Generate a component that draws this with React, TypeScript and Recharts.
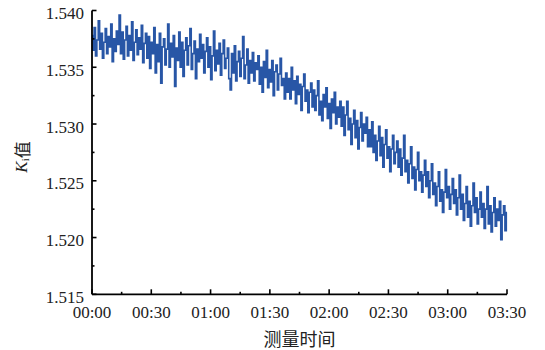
import React from 'react';
import { LineChart, Line, XAxis, YAxis, Label } from 'recharts';

const kValues: number[] = [
  1.5378, 1.5365, 1.5385, 1.5360, 1.5374, 1.5391, 1.5366, 1.5380, 1.5358, 1.5372, 1.5384, 1.5362, 1.5377, 1.5368, 1.5388, 1.5355, 1.5375, 1.5364, 1.5382, 1.5370,
  1.5396, 1.5362, 1.5381, 1.5357, 1.5374, 1.5386, 1.5360, 1.5378, 1.5365, 1.5390, 1.5356, 1.5372, 1.5383, 1.5361, 1.5376, 1.5366, 1.5387, 1.5354, 1.5371, 1.5380,
  1.5358, 1.5377, 1.5349, 1.5372, 1.5362, 1.5385, 1.5345, 1.5370, 1.5355, 1.5380, 1.5336, 1.5368, 1.5375, 1.5352, 1.5366, 1.5388, 1.5350, 1.5371, 1.5359, 1.5378,
  1.5333, 1.5367, 1.5356, 1.5381, 1.5350, 1.5372, 1.5342, 1.5365, 1.5376, 1.5352, 1.5369, 1.5384, 1.5348, 1.5362, 1.5373, 1.5340, 1.5366, 1.5355, 1.5379, 1.5358,
  1.5370, 1.5345, 1.5364, 1.5376, 1.5350, 1.5368, 1.5339, 1.5360, 1.5382, 1.5347, 1.5365, 1.5353, 1.5371, 1.5343, 1.5362, 1.5374, 1.5349, 1.5358, 1.5367, 1.5340,
  1.5330, 1.5362, 1.5345, 1.5369, 1.5338, 1.5355, 1.5364, 1.5342, 1.5358, 1.5377, 1.5340, 1.5352, 1.5366, 1.5336, 1.5356, 1.5345, 1.5363, 1.5338, 1.5354, 1.5348,
  1.5360, 1.5335, 1.5350, 1.5328, 1.5355, 1.5341, 1.5365, 1.5332, 1.5348, 1.5337, 1.5356, 1.5325, 1.5346, 1.5352, 1.5330, 1.5344, 1.5358, 1.5334, 1.5340, 1.5322,
  1.5345, 1.5328, 1.5340, 1.5322, 1.5350, 1.5330, 1.5338, 1.5318, 1.5342, 1.5326, 1.5335, 1.5312, 1.5333, 1.5344, 1.5320, 1.5330, 1.5310, 1.5328, 1.5336, 1.5315,
  1.5330, 1.5312, 1.5325, 1.5338, 1.5308, 1.5320, 1.5303, 1.5326, 1.5315, 1.5332, 1.5305, 1.5318, 1.5296, 1.5322, 1.5310, 1.5328, 1.5300, 1.5315, 1.5306, 1.5320,
  1.5298, 1.5315, 1.5290, 1.5308, 1.5320, 1.5295, 1.5305, 1.5282, 1.5300, 1.5312, 1.5288, 1.5303, 1.5278, 1.5297, 1.5310, 1.5285, 1.5300, 1.5292, 1.5306, 1.5280,
  1.5295, 1.5280, 1.5302, 1.5275, 1.5290, 1.5268, 1.5285, 1.5298, 1.5272, 1.5288, 1.5262, 1.5282, 1.5295, 1.5270, 1.5280, 1.5258, 1.5278, 1.5290, 1.5265, 1.5275,
  1.5285, 1.5262, 1.5278, 1.5255, 1.5270, 1.5290, 1.5258, 1.5268, 1.5248, 1.5265, 1.5280, 1.5252, 1.5262, 1.5242, 1.5260, 1.5275, 1.5250, 1.5258, 1.5240, 1.5255,
  1.5268, 1.5245, 1.5258, 1.5235, 1.5250, 1.5265, 1.5238, 1.5248, 1.5228, 1.5245, 1.5258, 1.5232, 1.5242, 1.5222, 1.5240, 1.5260, 1.5235, 1.5245, 1.5225, 1.5238,
  1.5252, 1.5230, 1.5242, 1.5220, 1.5235, 1.5255, 1.5225, 1.5238, 1.5215, 1.5230, 1.5245, 1.5218, 1.5232, 1.5210, 1.5228, 1.5248, 1.5222, 1.5235, 1.5212, 1.5225,
  1.5240, 1.5218, 1.5230, 1.5208, 1.5225, 1.5245, 1.5212, 1.5228, 1.5205, 1.5222, 1.5235, 1.5210, 1.5225, 1.5215, 1.5232, 1.5198, 1.5220, 1.5228, 1.5206, 1.5222,
];

const totalMinutes = 210;
const xTicks: number[] = [0, 15, 30, 45, 60, 75, 90, 105, 120, 135, 150, 165, 180, 195, 210];
const yTicks: number[] = [1.515, 1.5175, 1.52, 1.5225, 1.525, 1.5275, 1.53, 1.5325, 1.535, 1.5375, 1.54];

const data = kValues.map((v, i) => ({ t: (i * totalMinutes) / (kValues.length - 1), k: v }));

const SERIF = 'Liberation Serif, Tinos, Times New Roman, DejaVu Serif, serif';
const CJK = 'Noto Sans CJK SC, sans-serif';

const fmtTime = (m: number) => {
  const h = Math.floor(m / 60);
  const mm = m % 60;
  return `${String(h).padStart(2, '0')}:${String(mm).padStart(2, '0')}`;
};

const XTick = (props: any) => {
  const { x, y, payload } = props;
  const v = payload.value;
  const major = v % 30 === 0;
  return (
    <g>
      <line x1={x} x2={x} y1={y} y2={y - (major ? 5 : 2.5)} stroke="#000" strokeWidth={1.6} />
      {major && (
        <text x={x} y={y + 24} textAnchor="middle" fontFamily={SERIF} fontSize={17} fill="#222">
          {fmtTime(v)}
        </text>
      )}
    </g>
  );
};

const YTick = (props: any) => {
  const { x, y, payload } = props;
  const v = payload.value;
  const major = Math.round(v * 10000) % 50 === 0;
  return (
    <g>
      <line x1={x} x2={x + (major ? 4.5 : 2.5)} y1={y} y2={y} stroke="#000" strokeWidth={1.6} />
      {major && (
        <text x={x - 8} y={y + 8.5} textAnchor="end" fontFamily={SERIF} fontSize={17} fill="#222">
          {v.toFixed(3)}
        </text>
      )}
    </g>
  );
};

const YLabel = () => (
  <text
    x={21}
    y={157}
    transform="rotate(-90 21 157)"
    textAnchor="middle"
    dominantBaseline="central"
    fontSize={17}
    fill="#222"
  >
    <tspan fontFamily={SERIF} fontStyle="italic">K</tspan>
    <tspan fontFamily={SERIF} fontSize={11} dy={4}>i</tspan>
    <tspan fontFamily={CJK} dy={-4}>值</tspan>
  </text>
);

const XLabel = () => (
  <text x={299.5} y={346} textAnchor="middle" fontFamily={CJK} fontSize={18} fill="#222">
    测量时间
  </text>
);

export default function App() {
  return (
    <div style={{ margin: '-8px 0 0 -8px', width: 545, height: 350, fontFamily: SERIF }}>
      <LineChart
        width={545}
        height={350}
        data={data}
        margin={{ top: 10.5, right: 38, bottom: 25.7, left: 0 }}
        style={{ fontFamily: SERIF }}
      >
        <XAxis
          dataKey="t"
          type="number"
          domain={[0, totalMinutes]}
          ticks={xTicks}
          interval={0}
          tickSize={0}
          tickMargin={0}
          tickLine={false}
          tick={<XTick />}
          axisLine={{ stroke: '#000', strokeWidth: 1.8 }}
          height={30}
        >
          <Label content={<XLabel />} />
        </XAxis>
        <YAxis
          type="number"
          domain={[1.515, 1.54]}
          ticks={yTicks}
          interval={0}
          tickSize={0}
          tickMargin={0}
          tickLine={false}
          tick={<YTick />}
          axisLine={{ stroke: '#000', strokeWidth: 1.8 }}
          width={92}
        >
          <Label content={<YLabel />} />
        </YAxis>
        <Line
          type="step"
          dataKey="k"
          stroke="#2856a6"
          strokeWidth={1.6}
          dot={false}
          isAnimationActive={false}
        />
      </LineChart>
    </div>
  );
}
